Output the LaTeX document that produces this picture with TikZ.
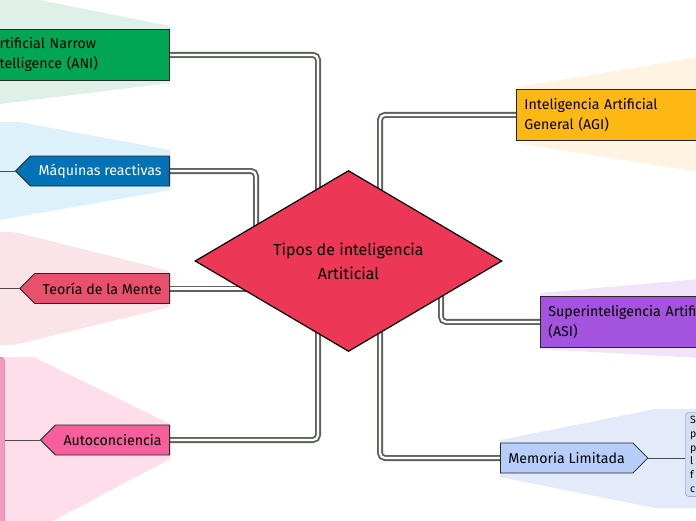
\documentclass[tikz,border=0pt]{standalone}
\usepackage{fontspec}
\setmainfont{Fira Sans}
\usetikzlibrary{positioning,calc,shapes.geometric,shapes.symbols,backgrounds}

\definecolor{hubred}{HTML}{EC3757}
\definecolor{linkgray}{HTML}{5B625A}
\definecolor{anigreen}{HTML}{00A651}
\definecolor{anifan}{HTML}{DFF0E8}
\definecolor{maqblue}{HTML}{0072B5}
\definecolor{maqfan}{HTML}{DDF1FB}
\definecolor{teored}{HTML}{E8516B}
\definecolor{teofan}{HTML}{FBE4E8}
\definecolor{autopink}{HTML}{F65F9B}
\definecolor{autofan}{HTML}{FDDEEA}
\definecolor{autostrip}{HTML}{F49AC0}
\definecolor{autoedge}{HTML}{C97A9C}
\definecolor{agiyellow}{HTML}{FDB813}
\definecolor{agifan}{HTML}{FEF4E1}
\definecolor{asipurple}{HTML}{A453DF}
\definecolor{asifan}{HTML}{F1E4FA}
\definecolor{memblue}{HTML}{B8CEFA}
\definecolor{memfan}{HTML}{E3EBFB}
\definecolor{detailblue}{HTML}{D4DEF2}
\definecolor{detailedge}{HTML}{8C96A8}

\begin{document}
\begin{tikzpicture}[x=1pt,y=-1pt,
  topic/.style={draw=black!85,line width=0.8pt,font=\fontsize{14.2}{20}\selectfont,
    inner xsep=8pt,minimum height=30pt},
  leftsig/.style={topic,signal,signal to=west,signal pointer angle=90,anchor=east},
  bigbox/.style={topic,rectangle,minimum height=51pt,align=left},
  link/.style={draw=linkgray,double=white,double distance=2.2pt,line width=1.9pt,
    rounded corners=5pt},
  twig/.style={draw=black!70,line width=0.7pt}]
    \useasboundingbox (0,0) rectangle (696,520);
    % central topic
    \node[diamond,draw=black,line width=1.2pt,fill=hubred,minimum width=307pt,
      minimum height=181pt,inner sep=0pt,aspect=1.7,align=center,
      font=\fontsize{16}{24}\selectfont] (hub) at (348.5,261)
      {Tipos de inteligencia\\Artiticial};
    % left branches
    \node[bigbox,fill=anigreen,anchor=north east,text width=162pt] (ani) at (170,29)
      {rtificial Narrow\\telligence (ANI)};
    \node[leftsig,fill=maqblue,text=white] (maq) at (170,171) {Máquinas reactivas};
    \node[leftsig,fill=teored] (teo) at (170,288.5) {Teoría de la Mente};
    \node[leftsig,fill=autopink] (auto) at (170,440) {Autoconciencia};
    \node[draw=autoedge,fill=autostrip,rounded corners=3pt,minimum width=14pt,
      minimum height=180pt,inner sep=0pt,anchor=north east] (autokid) at (4.5,357) {};
    \coordinate (maqout) at (0,171);
    \coordinate (teoout) at (0,288.5);
    % right branches
    \node[bigbox,fill=agiyellow,anchor=north west,text width=200pt] (agi) at (516,89)
      {Inteligencia Artificial\\General (AGI)};
    \node[bigbox,fill=asipurple,anchor=north west,text width=200pt] (asi) at (540,296)
      {Superinteligencia Artifi\\(ASI)};
    \node[topic,signal,signal to=east,signal pointer angle=90,anchor=west,
      fill=memblue] (mem) at (500,458) {Memoria Limitada};
    \node[draw=detailedge,fill=detailblue,rounded corners=4pt,anchor=north west,
      align=left,font=\fontsize{10.5}{13.8}\selectfont,inner xsep=5pt,inner ysep=4pt]
      (memtxt) at (685,412) {S\\p\\p\\l\\f\\c};

    \begin{scope}[on background layer]
    % fans behind the branches
    \fill[anifan] (170,26) -- (0,-8) -- (0,104) -- (170,83) -- cycle;
    \fill[maqfan] (170,150) -- (20,122) -- (0,122) -- (0,220) -- (170,190) -- cycle;
    \fill[teofan,rounded corners=4pt] (170,271) -- (14,232) -- (-5,232) -- (-5,345)
      -- (14,345) -- (170,307) -- cycle;
    \fill[autofan] (170,424) -- (34,357) -- (0,357) -- (0,525) -- (45,525)
      -- (170,459) -- cycle;
    \fill[agifan] (516,87) -- (700,57) -- (700,172) -- (516,143) -- cycle;
    \fill[asifan] (540,293) -- (700,279) -- (700,358) -- (540,349) -- cycle;
    \fill[memfan] (500,440) -- (655,409) -- (700,409) -- (700,508) -- (655,508)
      -- (500,477) -- cycle;
    % connectors
    \draw[link] (ani.east) -| ([xshift=-30.5pt]hub.center);
    \draw[link] (maq.east) -| ([xshift=-92.5pt]hub.center);
    \draw[link] (teo.east) -- (teo.east -| hub.center);
    \draw[link] (auto.east) -| ([xshift=-30.5pt]hub.center);
    \draw[link] (agi.west) -| ([xshift=31.5pt]hub.center);
    \draw[link] (asi.west) -| ([xshift=92.5pt]hub.center);
    \draw[link] (mem.west) -| ([xshift=31.5pt]hub.center);
    \end{scope}

    \draw[twig] (maq.west) -- (maqout);
    \draw[twig] (teo.west) -- (teoout);
    \draw[twig] (auto.west) -- (auto.west -| autokid.east);
    \draw[twig] (mem.east) -- (mem.east -| memtxt.west);
\end{tikzpicture}
\end{document}
